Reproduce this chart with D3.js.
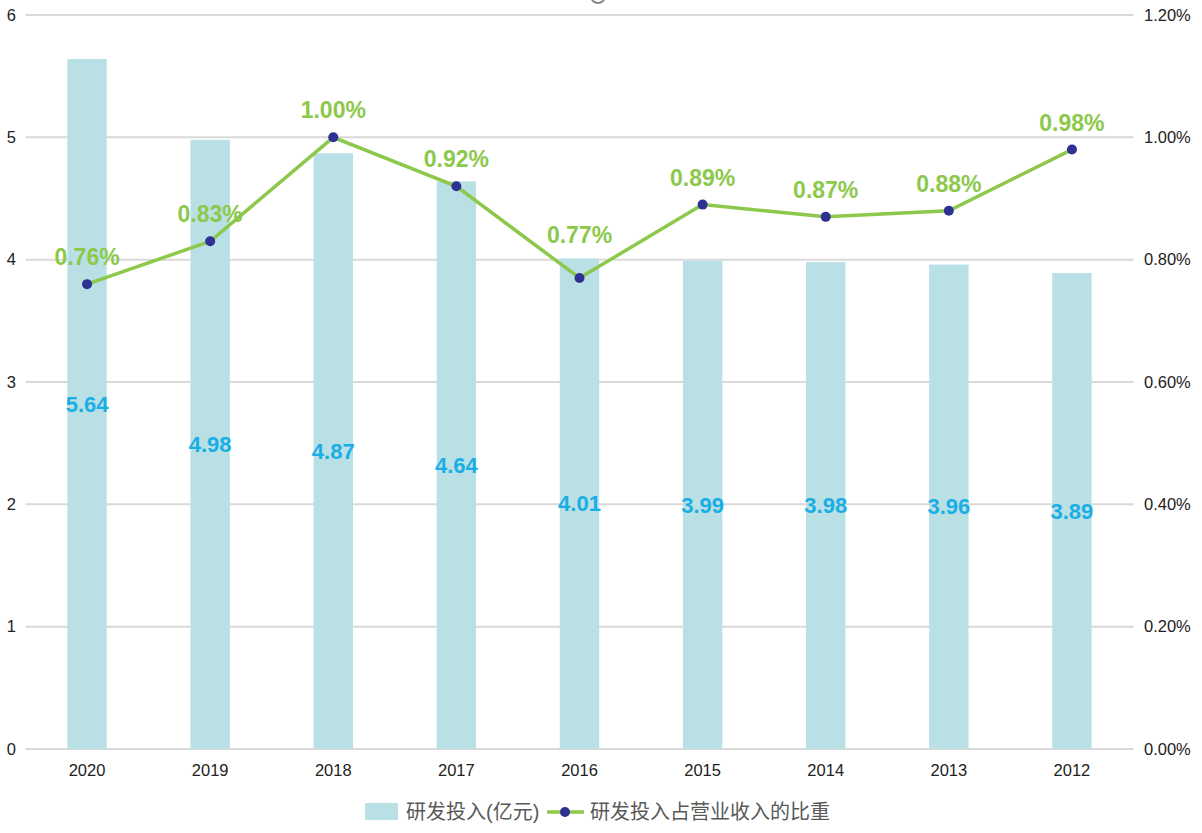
<!DOCTYPE html>
<html><head><meta charset="utf-8">
<script src="https://cdn.jsdelivr.net/npm/d3@7"></script>
<style>body{margin:0;background:#fff;}svg{display:block;font-family:Arial,"Liberation Sans","Noto Sans CJK SC",sans-serif;}</style>
</head><body><svg id="c" width="1202" height="833"></svg>
<script>
const categories = ["2020","2019","2018","2017","2016","2015","2014","2013","2012"];
const investment = [5.64,4.98,4.87,4.64,4.01,3.99,3.98,3.96,3.89];
const ratio = [0.76,0.83,1.00,0.92,0.77,0.89,0.87,0.88,0.98];
const leftTicks = [0,1,2,3,4,5,6];
const rightTicks = [0,0.2,0.4,0.6,0.8,1.0,1.2];
const seriesNames = ["研发投入(亿元)","研发投入占营业收入的比重"];

(function(){
const svg = d3.select("#c");
const pLeft = 25.5, pRight = 1133.5, pTop = 15, pBottom = 749;
const x = d3.scaleBand().domain(categories).range([pLeft,pRight]).paddingInner(0.68).paddingOuter(0.34);
const yL = d3.scaleLinear().domain([0,6]).range([pBottom,pTop]);
const yR = d3.scaleLinear().domain([0,1.2]).range([pBottom,pTop]);

svg.append("g").selectAll("line").data(leftTicks).join("line")
  .attr("x1",pLeft).attr("x2",pRight)
  .attr("y1",d=>yL(d)).attr("y2",d=>yL(d))
  .attr("stroke","#d9d9d9").attr("stroke-width",2);

svg.append("circle").attr("cx",598).attr("cy",-4).attr("r",7).attr("fill","none").attr("stroke","#888").attr("stroke-width",2);

svg.append("g").selectAll("text").data(leftTicks).join("text")
  .attr("x",16).attr("y",d=>yL(d)).attr("dy","0.35em").attr("text-anchor","end")
  .attr("font-size",16.5).attr("fill","#222").text(d=>d);
svg.append("g").selectAll("text").data(rightTicks).join("text")
  .attr("x",1144).attr("y",d=>yR(d)).attr("dy","0.35em").attr("text-anchor","start")
  .attr("font-size",16.5).attr("fill","#222").text(d=>d.toFixed(2)+"%");
svg.append("g").selectAll("text").data(categories).join("text")
  .attr("x",d=>x(d)+x.bandwidth()/2).attr("y",770).attr("dy","0.35em").attr("text-anchor","middle")
  .attr("font-size",16.5).attr("fill","#222").text(d=>d);

svg.append("g").selectAll("rect").data(investment).join("rect")
  .attr("x",(d,i)=>x(categories[i])).attr("width",x.bandwidth())
  .attr("y",d=>yL(d)).attr("height",d=>pBottom-yL(d))
  .attr("fill","#b9e0e4");
svg.append("g").selectAll("text").data(investment).join("text")
  .attr("x",(d,i)=>x(categories[i])+x.bandwidth()/2)
  .attr("y",d=>(yL(d)+pBottom)/2).attr("dy","0.35em").attr("text-anchor","middle")
  .attr("font-size",22).attr("font-weight","bold").attr("fill","#1aaee6").text(d=>d.toFixed(2));

const cx = (d,i)=>x(categories[i])+x.bandwidth()/2;
svg.append("path").datum(ratio)
  .attr("d",d3.line().x(cx).y(d=>yR(d)))
  .attr("fill","none").attr("stroke","#8cc84b").attr("stroke-width",3.5);
svg.append("g").selectAll("circle").data(ratio).join("circle")
  .attr("cx",cx).attr("cy",d=>yR(d)).attr("r",5).attr("fill","#2e3192");
// label above each point; the 2016 label sits higher to clear the line
svg.append("g").selectAll("text").data(ratio).join("text")
  .attr("x",cx).attr("y",(d,i)=>yR(d)-(i===4?43:27)).attr("dy","0.35em").attr("text-anchor","middle")
  .attr("font-size",23).attr("font-weight","bold").attr("fill","#8cc84b").text(d=>d.toFixed(2)+"%");

const lg = svg.append("g");
lg.append("rect").attr("x",365).attr("y",803).attr("width",33).attr("height",17).attr("fill","#b9e0e4");
lg.append("text").attr("x",406).attr("y",812).attr("dy","0.35em").attr("font-size",20).attr("fill","#595959").text(seriesNames[0]);
lg.append("line").attr("x1",547).attr("x2",584).attr("y1",812).attr("y2",812).attr("stroke","#8cc84b").attr("stroke-width",3.5);
lg.append("circle").attr("cx",565).attr("cy",812).attr("r",5).attr("fill","#2e3192");
lg.append("text").attr("x",590).attr("y",812).attr("dy","0.35em").attr("font-size",20).attr("fill","#595959").text(seriesNames[1]);
})();
</script></body></html>
